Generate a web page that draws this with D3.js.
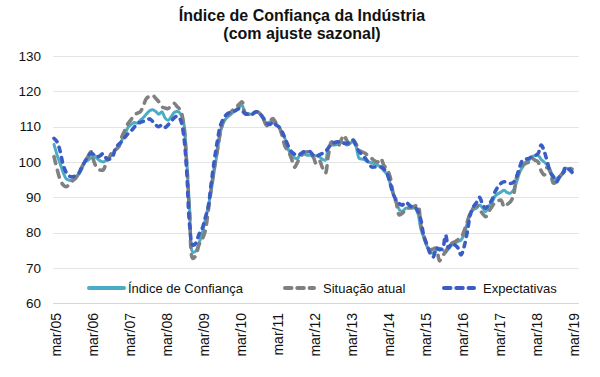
<!DOCTYPE html>
<meta charset="utf-8">
<head>
<style>
body { margin: 0; background: #fff; }
text { font-family: "Liberation Sans", Arial, sans-serif; fill: #111; }
.title { font-size: 16px; font-weight: bold; }
.grid line { stroke: #e4e4e4; stroke-width: 1; }
.ytick { font-size: 13.5px; }
.xtick { font-size: 14px; }
.legend text { font-size: 13px; }
.serie { fill: none; stroke-linecap: round; stroke-linejoin: round; }
</style>
</head>
<body>
<svg width="600" height="377"></svg>
<script src="https://d3js.org/d3.v7.min.js"></script>
<script>

// monthly values, mar/05 .. mar/19, one row per year (mar..feb)
var ici = [].concat(
  [105, 102, 99.5, 97, 95.2, 94.8, 94.8, 95.3, 96.5, 98, 100, 100.5],
  [101.2, 102, 101, 100.3, 100, 100.6, 101.3, 102.3, 103.5, 104.5, 106.2, 107.8],
  [109.8, 110.6, 111.2, 111, 111.8, 112.6, 113.6, 114.5, 114.8, 114.3, 113.5, 114.2],
  [112.5, 111.8, 112.8, 114, 114.3, 113.7, 111.5, 101, 86.5, 74.5, 74.8, 77],
  [79.5, 83.5, 87.3, 92, 97.5, 103, 108.5, 111.2, 112.5, 113.2, 114, 114.8],
  [115.5, 116, 114, 113.7, 113.5, 114, 114.2, 113.3, 112, 111, 111.3, 111.4],
  [110.5, 109.8, 108, 106.5, 103.5, 101.9, 101.2, 101, 102.4, 102.3, 101.9, 101.9],
  [101.9, 101.8, 101.5, 100.8, 100.5, 104, 104.8, 104.8, 105, 105.5, 105.5, 104.8],
  [105.3, 105.7, 104.3, 101, 100.8, 100.5, 100, 99.8, 99.5, 99.1, 98.5, 97.5],
  [96.5, 94, 91, 89, 86.5, 86, 86.9, 86.9, 86.9, 87, 85.5, 81],
  [78.5, 76, 74.8, 74.1, 75, 75.6, 75.2, 74.6, 75.5, 76.5, 77, 77.5],
  [77.9, 79.5, 82.6, 85.5, 86.5, 86.9, 87.8, 87, 85.9, 87.5, 88.5, 90.3],
  [91, 91.5, 92, 91.3, 91.2, 92, 94.2, 97, 98.6, 100, 100.5, 101.5],
  [101.8, 101.9, 100.7, 100, 99.1, 97.7, 95, 95.3, 96, 97, 98.2, 97.8, 96.9]
);

var situacao = [].concat(
  [101.5, 98, 95, 93.5, 93, 93.8, 94.7, 95.5, 96.8, 98.5, 100.1, 101.5],
  [102.9, 100, 98.2, 97.7, 97.8, 100, 101.5, 102.9, 103.5, 104.3, 107.1, 109],
  [110.9, 112, 113.3, 113.8, 114.2, 116, 118, 118.6, 118.9, 118, 117, 115.6],
  [115.3, 115.1, 116, 116.6, 115.6, 114.7, 111, 100, 85, 72.7, 73.5, 76.5],
  [78, 80.3, 86, 92.5, 98.5, 103.5, 108.5, 111.8, 113, 113.8, 114.7, 115.5],
  [116.3, 117, 113.7, 113.5, 113.3, 114, 114.2, 113.5, 112, 110.3, 111.5, 112.3],
  [111, 109.9, 107.5, 104.3, 103, 101, 98.5, 100, 101.5, 102.5, 102.9, 101.8],
  [101.5, 99.6, 100.5, 98.5, 96.8, 102, 105.7, 105, 104.3, 106, 107.6, 106],
  [104.8, 106.2, 105, 103.4, 102.8, 102.4, 101.5, 101, 100.3, 100, 101, 99],
  [98, 95.8, 91.1, 88.5, 85, 85.5, 86.5, 87, 87.3, 87.5, 87.8, 82],
  [79, 76.5, 75.2, 75.4, 75.6, 72, 73.5, 74.5, 76.3, 77, 77.4, 78],
  [78.5, 80.5, 83, 85.5, 87, 87.8, 86.5, 85.4, 84.5, 86, 87.3, 88.5],
  [89, 89.2, 87.3, 88, 88.7, 90.5, 95.5, 97.5, 99.1, 99.6, 100, 101],
  [100.5, 100, 97.5, 96.3, 98.6, 97, 94, 94.5, 95.8, 96.8, 97.7, 98.2, 98]
);

var expectativas = [].concat(
  [106.7, 105.7, 103, 99.1, 97, 96, 95.8, 96.2, 96.8, 98.5, 100.1, 101.5],
  [102.5, 102, 101.5, 101.8, 102.4, 101, 100.8, 101.5, 104, 105, 105.8, 107],
  [108, 108.8, 109.8, 111, 111.2, 111.5, 111.7, 112.2, 111.5, 110.5, 110, 110.5],
  [109.8, 110.5, 111.5, 112.5, 113, 112, 108, 98, 82, 76.5, 77, 79.5],
  [81, 84, 87.3, 94, 100.5, 106, 110.4, 112.3, 113.5, 114, 114.2, 114.6],
  [115.1, 114.5, 113.7, 113.5, 113.3, 114, 114.2, 113.5, 112.3, 111, 110.6, 111.4],
  [110.5, 109.9, 108.5, 106.6, 104.5, 102.9, 102.2, 101.9, 102.3, 102.9, 103, 102.9],
  [102, 101.5, 102, 102.4, 102.9, 104, 105.2, 105.5, 105.7, 105.7, 105.3, 105.2],
  [105.8, 106.2, 104.5, 102.9, 102, 101, 99.8, 98.6, 98.6, 98.6, 98.6, 98],
  [96.8, 94, 91, 89.2, 88.2, 87.8, 88.7, 88, 87.3, 87.3, 86, 83.5],
  [78.8, 76.5, 74.1, 73.1, 75.7, 75.2, 75.5, 79.3, 75.7, 77, 76.5, 75.7],
  [73.7, 76, 80, 85, 87.3, 88.5, 90, 88, 86.9, 88, 89.2, 91.5],
  [93, 94, 94.4, 94.2, 93.9, 94.2, 95.8, 98.5, 100.5, 100.8, 101, 101.5],
  [101.8, 102.4, 104.8, 103, 100, 97, 95.8, 94.4, 95.8, 96.8, 98.6, 98, 97.2]
);

var tickLabels = ["mar/05", "mar/06", "mar/07", "mar/08", "mar/09", "mar/10", "mar/11",
                  "mar/12", "mar/13", "mar/14", "mar/15", "mar/16", "mar/17", "mar/18", "mar/19"];
var yTicks = [60, 70, 80, 90, 100, 110, 120, 130];
var seriesNames = ["Índice de Confiança", "Situação atual", "Expectativas"];

var svg = d3.select("svg");

var x = d3.scaleLinear().domain([0, ici.length - 1]).range([54, 572]);
var y = d3.scaleLinear().domain([60, 130]).range([303.3, 56]);

// title
svg.append("text").attr("class", "title").attr("x", 302).attr("y", 21)
    .attr("text-anchor", "middle").text("Índice de Confiança da Indústria");
svg.append("text").attr("class", "title").attr("x", 302).attr("y", 39)
    .attr("text-anchor", "middle").text("(com ajuste sazonal)");

// grid
svg.append("g").attr("class", "grid")
  .selectAll("line")
  .data(yTicks)
  .enter().append("line")
    .attr("x1", 53).attr("x2", 579)
    .attr("y1", function(d) { return Math.round(y(d)) + 0.5; })
    .attr("y2", function(d) { return Math.round(y(d)) + 0.5; })
    .style("stroke", function(d) { return d == 60 ? "#d6d6d6" : null; });

// y axis
var yAxis = svg.append("g")
    .attr("transform", "translate(41,0)")
    .call(d3.axisLeft(y).tickValues(yTicks).tickSize(0).tickPadding(0));
yAxis.select(".domain").remove();
yAxis.selectAll("text").attr("class", "ytick").attr("fill", "#111").style("font-family", null);

// x axis, labels rotated
var xAxis = svg.append("g")
    .attr("transform", "translate(0,313)")
    .call(d3.axisBottom(x)
      .tickValues(tickLabels.map(function(d, i) { return i * 12; }))
      .tickFormat(function(d) { return tickLabels[d / 12]; })
      .tickSize(0));
xAxis.select(".domain").remove();
xAxis.selectAll("text")
    .attr("class", "xtick")
    .attr("fill", "#111")
    .style("font-family", null)
    .attr("text-anchor", "end")
    .attr("transform", "rotate(-90)")
    .attr("x", 0)
    .attr("y", 1.5)
    .attr("dy", "0.36em");

// lines
var line = d3.line()
    .x(function(d, i) { return x(i); })
    .y(function(d) { return y(d); })
    .curve(d3.curveCatmullRom);

var styles = [
  { data: ici, color: "#4bacc6", width: 3, dash: null },
  { data: situacao, color: "#808080", width: 3.6, dash: "7,7" },
  { data: expectativas, color: "#3a5cc4", width: 3.6, dash: "4.5,6" }
];

svg.append("g").selectAll("path")
  .data(styles)
  .enter().append("path")
    .attr("class", "serie")
    .attr("d", function(d) { return line(d.data); })
    .attr("stroke", function(d) { return d.color; })
    .attr("stroke-width", function(d) { return d.width; })
    .attr("stroke-dasharray", function(d) { return d.dash; });

// legend
var legendPos = [[87, 126, 128], [283, 316, 323], [442, 476, 483]];
var legend = svg.append("g").attr("class", "legend")
  .selectAll("g")
  .data(styles)
  .enter().append("g");

legend.append("line")
    .attr("x1", function(d, i) { return legendPos[i][0] + 2; })
    .attr("x2", function(d, i) { return legendPos[i][1] - 2; })
    .attr("y1", 288).attr("y2", 288)
    .attr("stroke", function(d) { return d.color; })
    .attr("stroke-width", 4)
    .attr("stroke-linecap", "round")
    .attr("stroke-dasharray", function(d) { return d.dash ? "6.5,5.8" : null; });

legend.append("text")
    .attr("x", function(d, i) { return legendPos[i][2]; })
    .attr("y", 292.5)
    .text(function(d, i) { return seriesNames[i]; });

</script>
</body>
</html>
